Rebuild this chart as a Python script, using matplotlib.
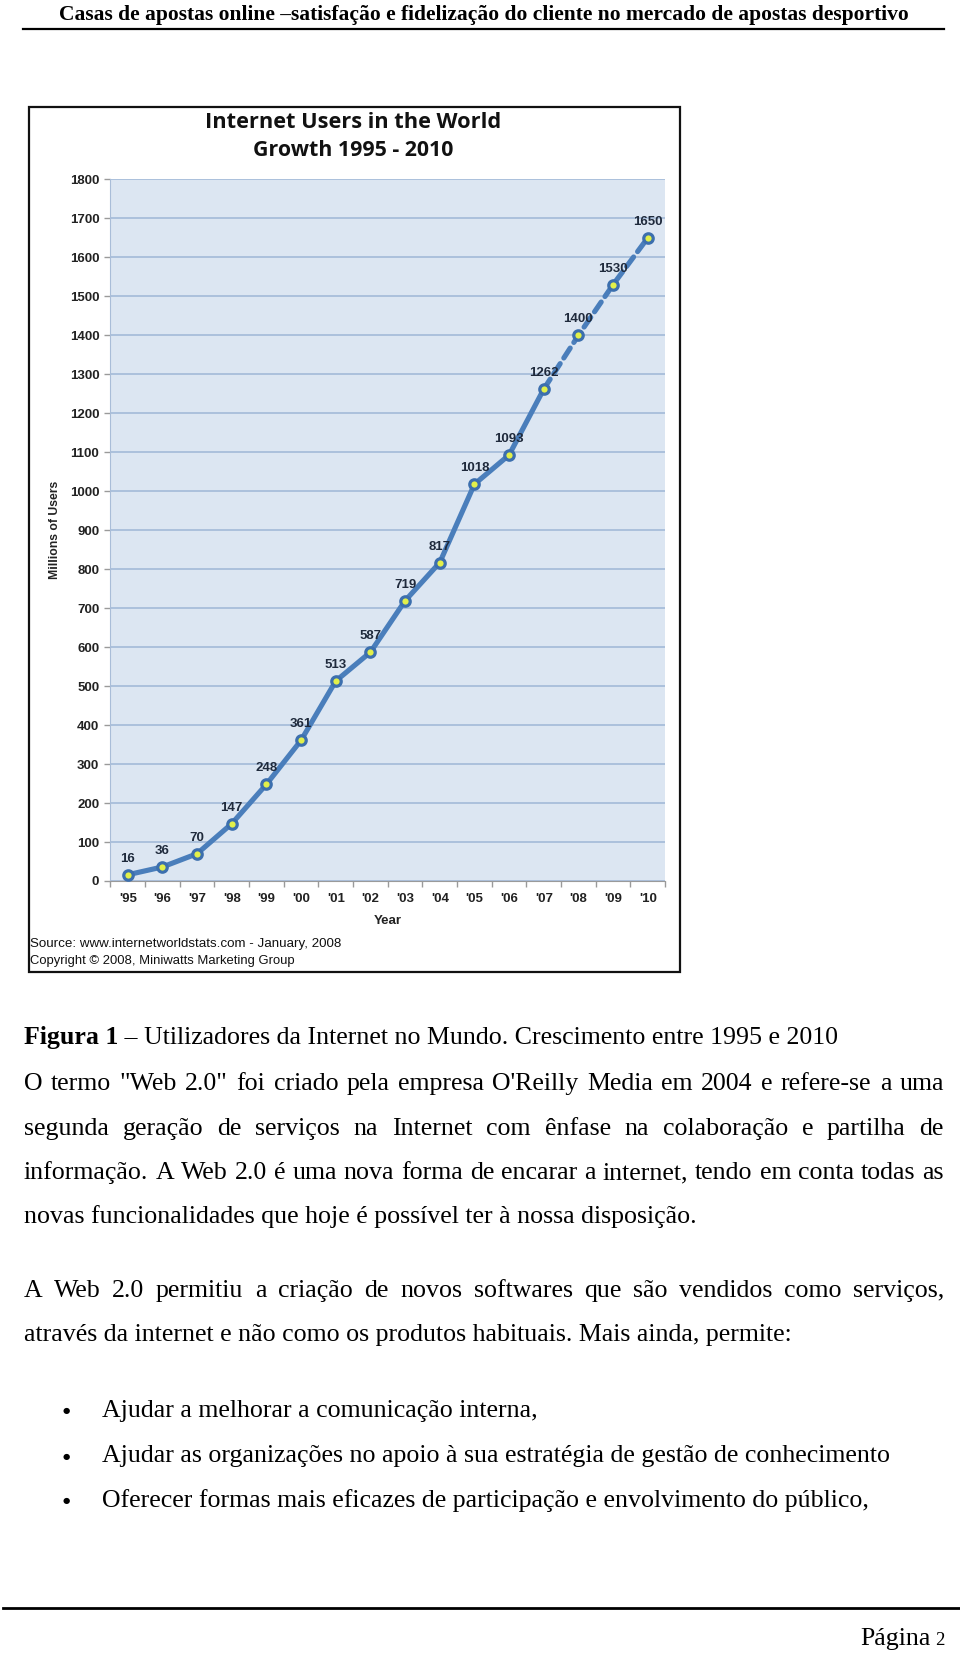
import matplotlib
matplotlib.use("Agg")
import matplotlib.pyplot as plt
from matplotlib.patches import Rectangle
from matplotlib.lines import Line2D

# ---------------- data ----------------
years = ["'95", "'96", "'97", "'98", "'99", "'00", "'01", "'02", "'03", "'04",
         "'05", "'06", "'07", "'08", "'09", "'10"]
users = [16, 36, 70, 147, 248, 361, 513, 587, 719, 817, 1018, 1093, 1262, 1400, 1530, 1650]
solid_until = 12  # index of '07: solid line up to here, dashed afterwards (projection)
yticks = list(range(0, 1900, 100))

title_lines = ["Internet Users in the World", "Growth 1995 - 2010"]
source_lines = ["Source: www.internetworldstats.com - January, 2008",
                "Copyright \u00a9 2008, Miniwatts Marketing Group"]
header = "Casas de apostas online \u2013satisfa\u00e7\u00e3o e fideliza\u00e7\u00e3o do cliente no mercado de apostas desportivo"
caption_bold = "Figura 1"
caption_rest = " \u2013 Utilizadores da Internet no Mundo. Crescimento entre 1995 e 2010"
para1 = ["O termo \"Web 2.0\" foi criado pela empresa O'Reilly Media em 2004 e refere-se a uma",
         "segunda gera\u00e7\u00e3o de servi\u00e7os na Internet com \u00eanfase na colabora\u00e7\u00e3o e partilha de",
         "informa\u00e7\u00e3o. A Web 2.0 \u00e9 uma nova forma de encarar a internet, tendo em conta todas as",
         "novas funcionalidades que hoje \u00e9 poss\u00edvel ter \u00e0 nossa disposi\u00e7\u00e3o."]
para2 = ["A Web 2.0 permitiu a cria\u00e7\u00e3o de novos softwares que s\u00e3o vendidos como servi\u00e7os,",
         "atrav\u00e9s da internet e n\u00e3o como os produtos habituais. Mais ainda, permite:"]
bullets = ["Ajudar a melhorar a comunica\u00e7\u00e3o interna,",
           "Ajudar as organiza\u00e7\u00f5es no apoio \u00e0 sua estrat\u00e9gia de gest\u00e3o de conhecimento",
           "Oferecer formas mais eficazes de participa\u00e7\u00e3o e envolvimento do p\u00fablico,"]

# ---------------- figure ----------------
W, H = 960, 1654
fig = plt.figure(figsize=(W / 100, H / 100), dpi=100)
fig.patch.set_facecolor("white")
renderer = fig.canvas.get_renderer()

SERIF = ["Liberation Serif", "DejaVu Serif"]
NARROW = ["Liberation Sans Narrow", "Liberation Sans", "DejaVu Sans"]
TITLEF = ["Open Sans", "Lato", "DejaVu Sans"]


def fx(x):
    return x / W


def fy(y):
    return 1 - y / H


def put(x, y, s, **kw):
    return fig.text(fx(x), fy(y), s, **kw)


def width_of(t):
    return t.get_window_extent(renderer).width


def fit(x, y, s, target_w, size0=12, **kw):
    t = put(x, y, s, fontsize=size0, **kw)
    w = width_of(t)
    t.set_fontsize(size0 * target_w / w)
    return t


def justify(line, x0, x1, y, size, **kw):
    words = line.split(" ")
    ts = [put(0, y, w, fontsize=size, va="baseline", **kw) for w in words]
    ws = [width_of(t) for t in ts]
    gap = (x1 - x0 - sum(ws)) / (len(words) - 1)
    x = x0
    for t, w in zip(ts, ws):
        t.set_x(fx(x))
        x += w + gap


# header
hdr = fit(484, 20, header, 842, family=SERIF, fontweight="bold", ha="center", va="baseline")
fig.add_artist(Line2D([fx(23), fx(944)], [fy(29), fy(29)], color="black", lw=1.6))

# chart frame
fig.add_artist(Rectangle((fx(28.5), fy(971.5)), fx(680) - fx(28.5), fy(106.5) - fy(971.5),
                         transform=fig.transFigure, fill=False, edgecolor="#111111", lw=1.6))

# chart titles
fit(353, 123, title_lines[0], 295, family=TITLEF, fontweight="bold", ha="center", va="center", color="#111111")
fit(353, 150, title_lines[1], 200, family=TITLEF, fontweight="bold", ha="center", va="center", color="#111111")

# axes
left, right, top, bottom = 110.4, 665.1, 179.4, 881.0
ax = fig.add_axes([fx(left), fy(bottom), fx(right) - fx(left), fy(top) - fy(bottom)])
ax.set_facecolor("#DCE6F2")
n = len(years)
xs = list(range(n))
ax.set_xlim(-0.5, n - 0.5)
ax.set_ylim(0, 1800)
LBL = 9.5
ax.set_yticks(yticks)
ax.set_yticklabels([str(v) for v in yticks], family=NARROW, fontweight="bold", fontsize=LBL, color="#222222")
ax.set_xticks(xs)
ax.set_xticklabels(years, family=NARROW, fontweight="bold", fontsize=LBL, color="#222222")
ax.set_xticks([i - 0.5 for i in range(n + 1)], minor=True)
ax.tick_params(axis="x", which="major", length=0, pad=9)
ax.tick_params(axis="x", which="minor", length=4, color="#9A9A9A", width=1)
ax.tick_params(axis="y", length=4, color="#9A9A9A", width=1, pad=4)
ax.yaxis.grid(True, color="#A3BAD8", lw=1.2)
ax.set_axisbelow(True)
for s in ["top", "right"]:
    ax.spines[s].set_visible(False)
ax.spines["left"].set_color("#A9BDD8")
ax.spines["bottom"].set_color("#9A9A9A")

line_c = "#4A7EBB"
ax.plot(xs[:solid_until + 1], users[:solid_until + 1], color=line_c, lw=3.7,
        solid_capstyle="round", zorder=3)
ax.plot(xs[solid_until:], users[solid_until:], color=line_c, lw=3.7,
        linestyle=(0, (2.3, 1.3)), dash_capstyle="round", zorder=3)
ax.plot(xs, users, linestyle="none", marker="o", markersize=6.8, markerfacecolor="#E2F04A",
        markeredgecolor="#3C6FAE", markeredgewidth=2.3, zorder=4)
for x, v in zip(xs, users):
    ax.annotate(str(v), (x, v), xytext=(0, 11.5), textcoords="offset points", ha="center",
                va="center", family=NARROW, fontweight="bold", fontsize=LBL, color="#1F2A3C", zorder=5)

# axis titles
put(388, 921, "Year", family=NARROW, fontweight="bold", fontsize=LBL, ha="center", va="center", color="#222222")
put(55, 530, "Millions of Users", family=NARROW, fontweight="bold", fontsize=8.8, rotation=90,
    ha="center", va="center", color="#222222")

# source
fit(30, 944, source_lines[0], 311, family=NARROW, ha="left", va="center", color="#111111")
fit(30, 961, source_lines[1], 264, family=NARROW, ha="left", va="center", color="#111111")

# caption
BODY = 18.6
c1 = put(24, 1044, caption_bold, family=SERIF, fontweight="bold", fontsize=BODY, va="baseline")
w1 = width_of(c1)
put(24 + w1, 1044, caption_rest, family=SERIF, fontsize=BODY, va="baseline")

# paragraphs
xl, xr = 24, 944
base1 = [1090, 1135, 1179, 1223]
for i, (ln, yb) in enumerate(zip(para1, base1)):
    if i < len(para1) - 1:
        justify(ln, xl, xr, yb, BODY, family=SERIF)
    else:
        put(xl, yb, ln, family=SERIF, fontsize=BODY, va="baseline")
base2 = [1297, 1341]
justify(para2[0], xl, xr, base2[0], BODY, family=SERIF)
put(xl, base2[1], para2[1], family=SERIF, fontsize=BODY, va="baseline")

for b, yb in zip(bullets, [1417, 1462, 1507]):
    put(66, yb - 6, "\u25cf", family=["DejaVu Sans"], fontsize=6, ha="center", va="center")
    put(102, yb, b, family=SERIF, fontsize=BODY, va="baseline")

# footer
fig.add_artist(Line2D([fx(3), fx(960)], [fy(1608), fy(1608)], color="black", lw=2.0))
t2 = put(944, 1645, "2", family=SERIF, fontsize=13.5, ha="right", va="baseline")
w2 = width_of(t2)
put(944 - w2 - 4, 1645, "P\u00e1gina", family=SERIF, fontsize=BODY, ha="right", va="baseline")

fig.savefig("out.png", dpi=100, facecolor="white")
